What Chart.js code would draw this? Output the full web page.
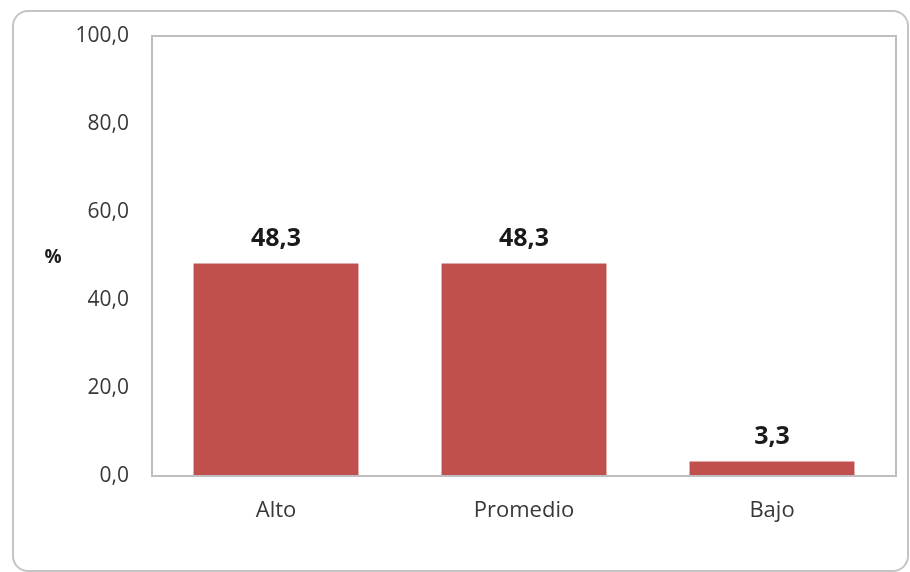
<!DOCTYPE html>
<html>
<head>
<meta charset="utf-8">
<script src="https://cdn.jsdelivr.net/npm/chart.js@4/dist/chart.umd.min.js"></script>
<style>
  html, body { margin: 0; padding: 0; background: #fff; }
  #wrap { position: relative; width: 910px; height: 572px; }
  #frame { position: absolute; left: 12px; top: 10px; width: 897px; height: 562px;
           border: 2px solid #c4c4c4; border-radius: 16px; box-sizing: border-box; }
  #c { position: absolute; left: 0; top: 0; }
</style>
</head>
<body>
<div id="wrap">
  <div id="frame"></div>
  <canvas id="c" width="910" height="572"></canvas>
</div>
<script>
// ─── DATA ─────────────────────────────────
const categories = ['Alto', 'Promedio', 'Bajo'];
const values = [48.3, 48.3, 3.3];
const yTicks = [0, 20, 40, 60, 80, 100];

const fmt = v => v.toFixed(1).replace('.', ',');
const FONT = "'Open Sans', 'DejaVu Sans', sans-serif";

// frame round the plot area, "%" label and value labels
const extras = {
  id: 'extras',
  afterDraw(chart) {
    const { ctx, chartArea: a } = chart;
    ctx.save();
    ctx.strokeStyle = '#bfbfbf';
    ctx.lineWidth = 2;
    ctx.strokeRect(a.left, a.top, a.right - a.left, a.bottom - a.top);

    ctx.fillStyle = '#1a1a1a';
    ctx.font = 'bold 19px ' + FONT;
    ctx.textAlign = 'center';
    ctx.textBaseline = 'middle';
    ctx.fillText('%', 53, 258);

    ctx.font = 'bold 25px ' + FONT;
    chart.getDatasetMeta(0).data.forEach((bar, i) => {
      ctx.fillText(fmt(values[i]), bar.x, bar.y - 25);
    });
    ctx.restore();
  }
};

new Chart(document.getElementById('c'), {
  type: 'bar',
  data: {
    labels: categories,
    datasets: [{
      data: values,
      backgroundColor: '#c0504d',
      barPercentage: 0.665,
      categoryPercentage: 1,
    }]
  },
  options: {
    responsive: false,
    animation: false,
    layout: { padding: { top: 36, right: 14, left: 0, bottom: 0 } },
    plugins: { legend: { display: false }, tooltip: { enabled: false } },
    scales: {
      x: {
        grid: { display: false, drawTicks: false },
        border: { display: false },
        ticks: { color: '#383838', font: { size: 22, family: FONT }, padding: 22 },
        afterFit: s => { s.height = 96; }
      },
      y: {
        min: 0, max: 100,
        afterBuildTicks: s => { s.ticks = yTicks.map(v => ({ value: v })); },
        grid: { display: false, drawTicks: false },
        border: { display: false },
        ticks: { color: '#383838', font: { size: 21, family: FONT }, padding: 23, callback: v => fmt(v) },
        afterFit: s => { s.width = 152; }
      }
    }
  },
  plugins: [extras]
});
</script>
</body>
</html>
